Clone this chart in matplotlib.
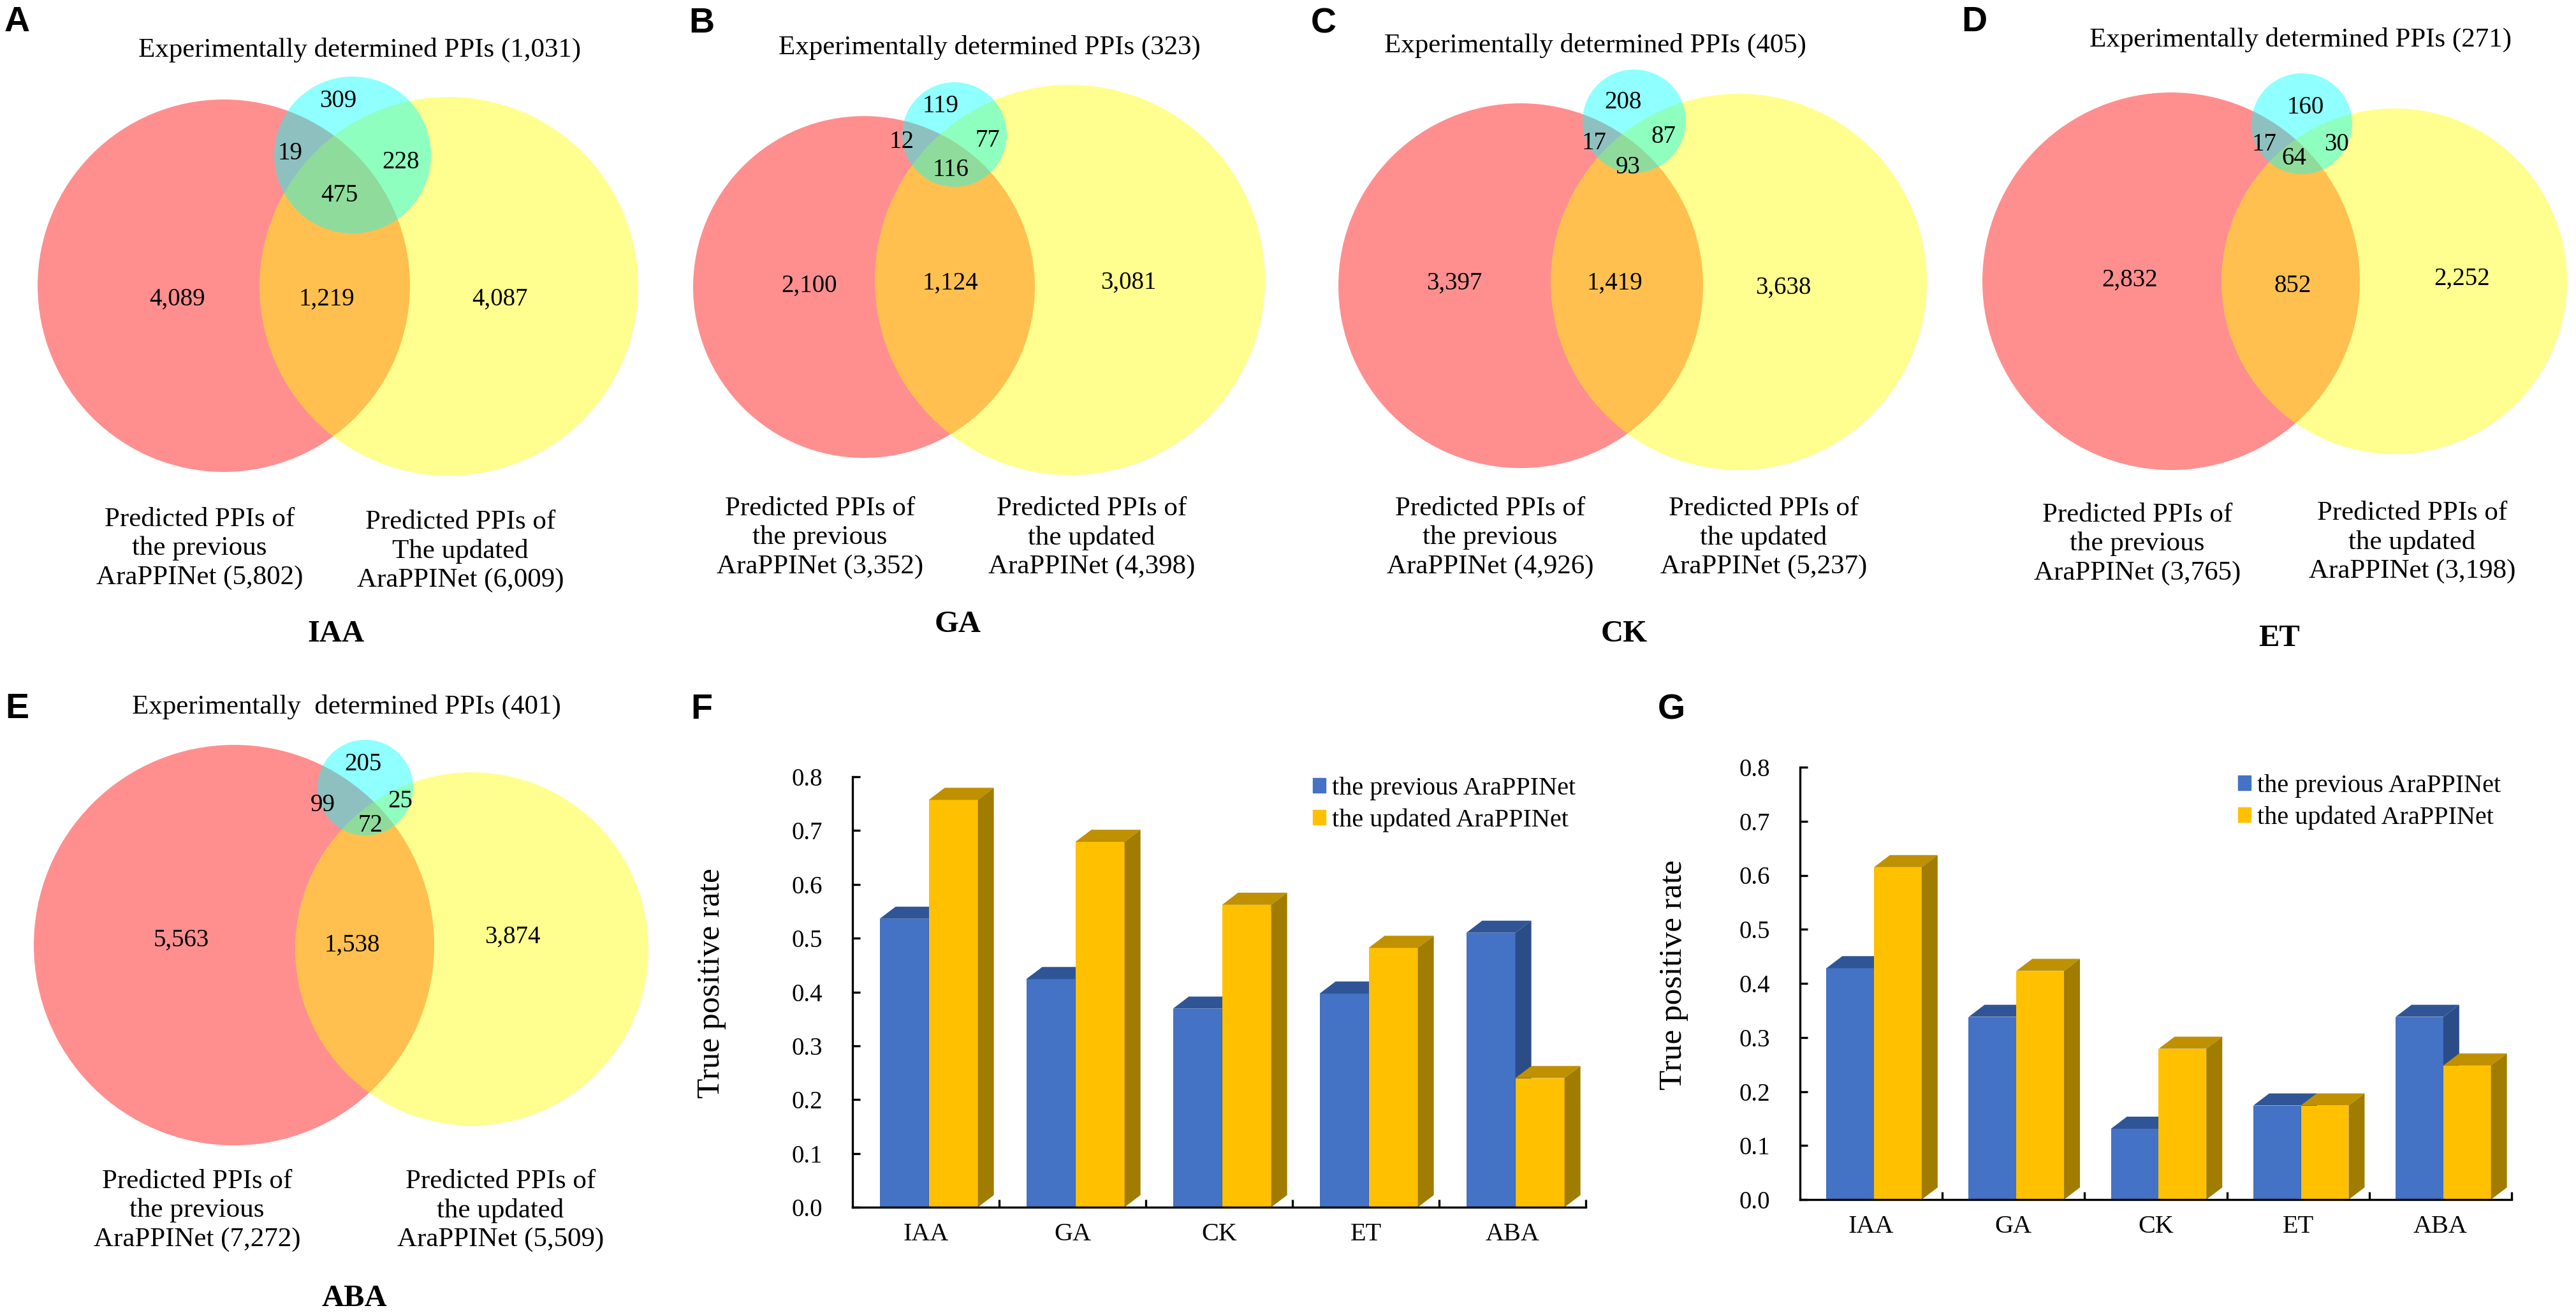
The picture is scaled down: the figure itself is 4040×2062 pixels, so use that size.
import numpy as np
import matplotlib
matplotlib.use("Agg")
import matplotlib.pyplot as plt
from matplotlib.patches import Circle, Polygon, Patch

plt.rcParams['font.family'] = ['Liberation Serif', 'DejaVu Serif']

# ---- data ----
hormones = ["IAA", "GA", "CK", "ET", "ABA"]
panel_letters = ["A", "B", "C", "D", "E"]

exp_totals = [1031, 323, 405, 271, 401]
prev_totals = [5802, 3352, 4926, 3765, 7272]
upd_totals = [6009, 4398, 5237, 3198, 5509]

# venn region counts
exp_only = [309, 119, 208, 160, 205]
exp_prev = [19, 12, 17, 17, 99]
exp_upd = [228, 77, 87, 30, 25]
all_three = [475, 116, 93, 64, 72]
prev_only = [4089, 2100, 3397, 2832, 5563]
prev_upd = [1219, 1124, 1419, 852, 1538]
upd_only = [4087, 3081, 3638, 2252, 3874]

# true positive rates
tpr_prev_F = [0.536, 0.424, 0.369, 0.397, 0.510]
tpr_upd_F = [0.757, 0.679, 0.562, 0.482, 0.240]
tpr_prev_G = [0.428, 0.338, 0.131, 0.174, 0.338]
tpr_upd_G = [0.615, 0.423, 0.279, 0.174, 0.248]

series_names = ["the previous AraPPINet", "the updated AraPPINet"]

# ---- layout (pixels) for each venn panel ----
venn_layout = [
    dict(red=(351, 448, 292), yel=(704, 449, 297), cyan=(553, 243, 123),
         title=(564, 78), letter=(27, 35), cat=(527, 994),
         lab_l=(313, 860), lab_r=(722, 864),
         pos=[(530, 159), (455, 240), (629, 255), (532, 307), (278, 469), (513, 469), (784, 469)]),
    dict(red=(1355, 450, 268), yel=(1678, 439, 306), cyan=(1497, 211, 82),
         title=(1552, 74), letter=(1100, 37), cat=(1502, 979),
         lab_l=(1286, 843), lab_r=(1712, 843),
         pos=[(1475, 166), (1414, 222), (1549, 220), (1491, 267), (1269, 448), (1491, 444), (1770, 443)]),
    dict(red=(2385, 448, 286), yel=(2727, 442, 295), cyan=(2563, 190, 81),
         title=(2502, 71), letter=(2076, 37), cat=(2547, 994),
         lab_l=(2337, 843), lab_r=(2766, 843),
         pos=[(2545, 161), (2500, 224), (2609, 215), (2553, 262), (2281, 444), (2533, 444), (2797, 451)]),
    dict(red=(3405, 441, 296), yel=(3755, 441, 271), cyan=(3610, 194, 79),
         title=(3608, 62), letter=(3096, 35), cat=(3575, 1001),
         lab_l=(3352, 853), lab_r=(3783, 850),
         pos=[(3616, 168), (3551, 227), (3664, 227), (3598, 248), (3340, 439), (3596, 449), (3861, 437)]),
    dict(red=(367, 1482, 314), yel=(740, 1488, 277), cyan=(573, 1235, 75),
         title=(543, 1108), letter=(27, 1112), cat=(556, 2036),
         lab_l=(309, 1898), lab_r=(785, 1898),
         pos=[(569, 1199), (506, 1262), (628, 1257), (581, 1294), (284, 1474), (552, 1482), (804, 1469)]),
]

W, H = 4041, 2062
fig = plt.figure(figsize=(W / 100, H / 100), dpi=100)
ov = fig.add_axes([0, 0, 1, 1])
ov.set_xlim(0, W)
ov.set_ylim(H, 0)
ov.axis("off")

num_fs = 28
txt_fs = 31

for i, lay in enumerate(venn_layout):
    for key, col in [("red", (1, 0, 0)), ("yel", (1, 1, 0)), ("cyan", (0, 1, 1))]:
        cx, cy, r = lay[key]
        ov.add_patch(Circle((cx, cy), r, facecolor=col, alpha=0.44, lw=0))
    spacer = "  " if i == 4 else " "
    ov.text(*lay["title"], f"Experimentally{spacer}determined PPIs ({exp_totals[i]:,})",
            fontsize=txt_fs, ha="center", va="center")
    counts = [exp_only[i], exp_prev[i], exp_upd[i], all_three[i],
              prev_only[i], prev_upd[i], upd_only[i]]
    for (px, py), n in zip(lay["pos"], counts):
        ov.text(px, py, f"{n:,}", fontsize=num_fs, ha="center", va="center")
    the = "The" if i == 0 else "the"
    ov.text(*lay["lab_l"], f"Predicted PPIs of\nthe previous\nAraPPINet ({prev_totals[i]:,})",
            fontsize=txt_fs, ha="center", va="center", multialignment="center", linespacing=1.23)
    ov.text(*lay["lab_r"], f"Predicted PPIs of\n{the} updated\nAraPPINet ({upd_totals[i]:,})",
            fontsize=txt_fs, ha="center", va="center", multialignment="center", linespacing=1.23)
    ov.text(*lay["cat"], hormones[i], fontsize=35, fontweight="bold", ha="center", va="center")
    ov.text(*lay["letter"], panel_letters[i], fontsize=40, fontweight="bold",
            family="Liberation Sans", ha="center", va="center")

ov.text(1100, 1113, "F", fontsize=40, fontweight="bold", family="Liberation Sans", ha="center", va="center")
ov.text(2621, 1113, "G", fontsize=40, fontweight="bold", family="Liberation Sans", ha="center", va="center")

blue = ("#4472C4", "#2F5597", "#2B4C87")
gold = ("#FFC000", "#BF9000", "#A07C00")


def bar_panel(x0, x1, y0, y8, vals_prev, vals_upd, leg_xy, ylab_x):
    ax = fig.add_axes([x0 / W, 1 - y0 / H, (x1 - x0) / W, (y0 - y8) / H])
    ax.set_xlim(-0.5, len(hormones) - 0.5)
    ax.set_ylim(0, 0.8)
    dx = 25 / ((x1 - x0) / len(hormones))
    dy = 19 / ((y0 - y8) / 0.8)
    x = np.arange(len(hormones))
    w = 0.335
    for z, (vals, off, cols) in enumerate([(vals_prev, -0.315, blue), (vals_upd, 0.02, gold)]):
        rects = ax.bar(x + off, vals, width=w, align="edge", color=cols[0], lw=0, zorder=2 + z)
        for r in rects:
            a, b, h = r.get_x(), r.get_x() + r.get_width(), r.get_height()
            ax.add_patch(Polygon([(a, h), (a + dx, h + dy), (b + dx, h + dy), (b, h)],
                                 closed=True, fc=cols[1], lw=0, zorder=2 + z))
            ax.add_patch(Polygon([(b, 0), (b + dx, dy), (b + dx, h + dy), (b, h)],
                                 closed=True, fc=cols[2], lw=0, zorder=2 + z))
    for s in ["top", "right"]:
        ax.spines[s].set_visible(False)
    for s in ["left", "bottom"]:
        ax.spines[s].set_linewidth(2.4)
        ax.spines[s].set_zorder(5)
    ax.set_yticks(np.arange(0, 0.81, 0.1))
    ax.set_yticklabels([f"{v:.1f}" for v in np.arange(0, 0.81, 0.1)])
    ax.tick_params(axis="y", direction="in", length=8.6, width=2.4, pad=34, labelsize=28)
    ax.set_xticks(np.arange(len(hormones)) + 0.5)
    ax.set_xticklabels([])
    ax.set_xticks(x, minor=True)
    ax.set_xticklabels(hormones, minor=True)
    ax.tick_params(axis="x", which="major", direction="in", length=8.6, width=2.4)
    ax.tick_params(axis="x", which="minor", length=0, pad=17, labelsize=29)
    ax.set_ylabel("True positive rate", fontsize=37)
    ax.yaxis.set_label_coords((ylab_x - x0) / (x1 - x0), 0.52)
    handles = [Patch(color=blue[0]), Patch(color=gold[0])]
    ax.legend(handles, series_names, loc="upper left", frameon=False, fontsize=29,
              bbox_to_anchor=(leg_xy[0] / W, 1 - leg_xy[1] / H), bbox_transform=fig.transFigure,
              borderpad=0, borderaxespad=0, handlelength=0.5, handleheight=0.5,
              handletextpad=0.25, labelspacing=0.3)
    return ax


bar_panel(1337, 2487, 1893, 1218, tpr_prev_F, tpr_upd_F, (2059, 1218), 1139)
bar_panel(2823, 3939, 1881, 1203, tpr_prev_G, tpr_upd_G, (3510, 1214), 2648)

fig.savefig("out.png", dpi=100)
